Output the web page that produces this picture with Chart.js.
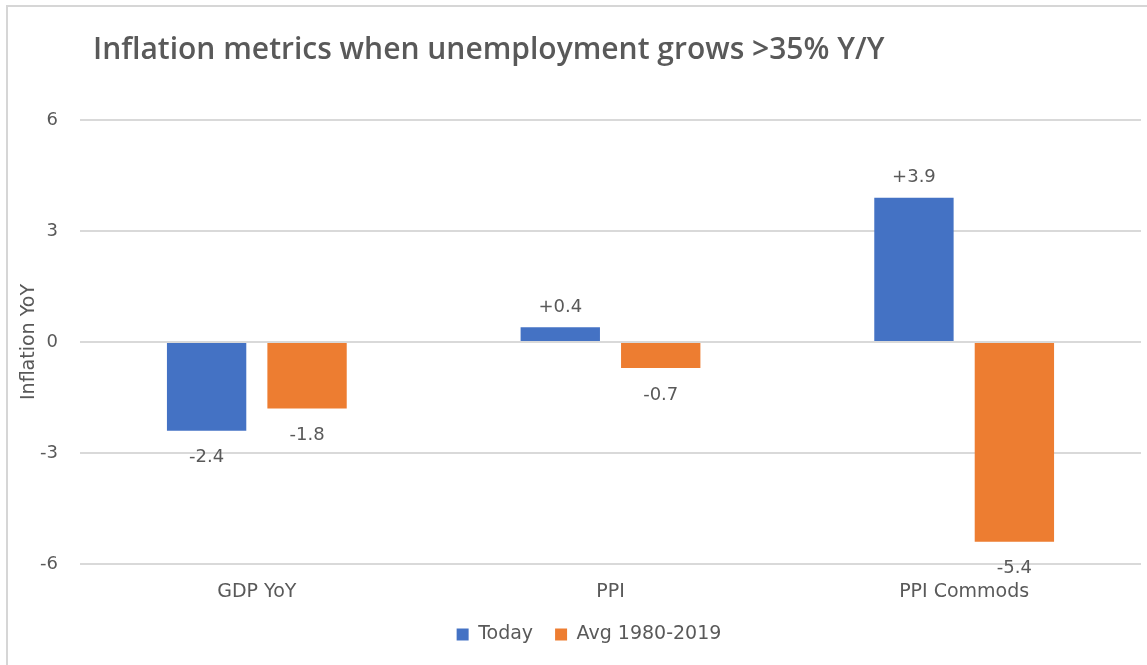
<!DOCTYPE html>
<html>
<head>
<meta charset="utf-8">
<script src="https://cdn.jsdelivr.net/npm/chart.js@4.4.0/dist/chart.umd.min.js"></script>
<style>
  html, body { margin: 0; padding: 0; background: #fff; }
  #wrap { position: relative; width: 1147px; height: 665px; overflow: hidden; }
  #frame { position: absolute; left: 6px; top: 5px; width: 1160px; height: 700px;
           border-left: 2px solid #d6d6d6; border-top: 2px solid #d6d6d6; pointer-events: none; }
</style>
</head>
<body>
<div id="wrap">
  <canvas id="bar-chart" width="1147" height="665"></canvas>
  <div id="frame"></div>
</div>
<script>
var categories = ['GDP YoY', 'PPI', 'PPI Commods'];
var todayValues = [-2.4, 0.4, 3.9];
var avgValues = [-1.8, -0.7, -5.4];
var seriesNames = ['Today', 'Avg 1980-2019'];
var yTicks = [-6, -3, 0, 3, 6];

var textColor = '#595959';
var smallFont = "'DejaVu Sans', sans-serif";
var titleFont = "'Open Sans', 'DejaVu Sans', sans-serif";

// value labels drawn at the end of each bar (Excel "outside end")
var valueLabels = {
  id: 'valueLabels',
  afterDatasetsDraw: function(chart) {
    var ctx = chart.ctx;
    ctx.save();
    ctx.font = '18px ' + smallFont;
    ctx.fillStyle = textColor;
    ctx.textAlign = 'center';
    ctx.textBaseline = 'middle';
    chart.data.datasets.forEach(function(ds, i) {
      chart.getDatasetMeta(i).data.forEach(function(bar, j) {
        var v = ds.data[j];
        var txt = (v > 0 ? '+' : '') + v.toFixed(1);
        var y = v >= 0 ? bar.y - 20 : bar.y + 27;
        ctx.fillText(txt, bar.x, y);
      });
    });
    ctx.restore();
  }
};

// title sits left-aligned a little in from the plot edge,
// legend is centred a bit right of the canvas middle
var layoutShift = {
  id: 'layoutShift',
  afterLayout: function(chart) {
    chart.titleBlock.left = chart.chartArea.left + 13;
    chart.legend.left += 15;
    chart.legend.right += 15;
  }
};

new Chart(document.getElementById('bar-chart'), {
  type: 'bar',
  data: {
    labels: categories,
    datasets: [{
        label: seriesNames[0],
        data: todayValues,
        backgroundColor: '#4472C4',
        categoryPercentage: 0.568,
        barPercentage: 0.79
      }, {
        label: seriesNames[1],
        data: avgValues,
        backgroundColor: '#ED7D31',
        categoryPercentage: 0.568,
        barPercentage: 0.79
      }]
  },
  plugins: [valueLabels, layoutShift],
  options: {
    responsive: false,
    animation: false,
    layout: {
      padding: { top: 0, left: 7, right: 6, bottom: 11 }
    },
    plugins: {
      title: {
        display: true,
        text: 'Inflation metrics when unemployment grows >35% Y/Y',
        align: 'start',
        color: textColor,
        font: { family: titleFont, size: 30, weight: '600' },
        padding: { top: 32, bottom: 52 }
      },
      legend: {
        position: 'bottom',
        labels: {
          color: textColor,
          font: { family: smallFont, size: 19 },
          boxWidth: 12,
          boxHeight: 12,
          padding: 22
        }
      },
      tooltip: { enabled: false }
    },
    scales: {
      x: {
        afterFit: function(scale) { scale.height = 39; },
        grid: { display: false, drawTicks: false },
        border: { display: false },
        ticks: { color: textColor, font: { family: smallFont, size: 19 }, padding: 17 }
      },
      y: {
        min: -6,
        max: 6,
        afterBuildTicks: function(scale) {
          scale.ticks = yTicks.map(function(v) { return { value: v }; });
        },
        afterFit: function(scale) { scale.width = 73; },
        grid: { color: '#d9d9d9', lineWidth: 2, drawTicks: false },
        border: { display: false },
        ticks: { color: textColor, font: { family: smallFont, size: 18 }, padding: 22 },
        title: {
          display: true,
          text: 'Inflation YoY',
          color: textColor,
          font: { family: smallFont, size: 19 },
          padding: { top: 11, bottom: 0 }
        }
      }
    }
  }
});
</script>
</body>
</html>
